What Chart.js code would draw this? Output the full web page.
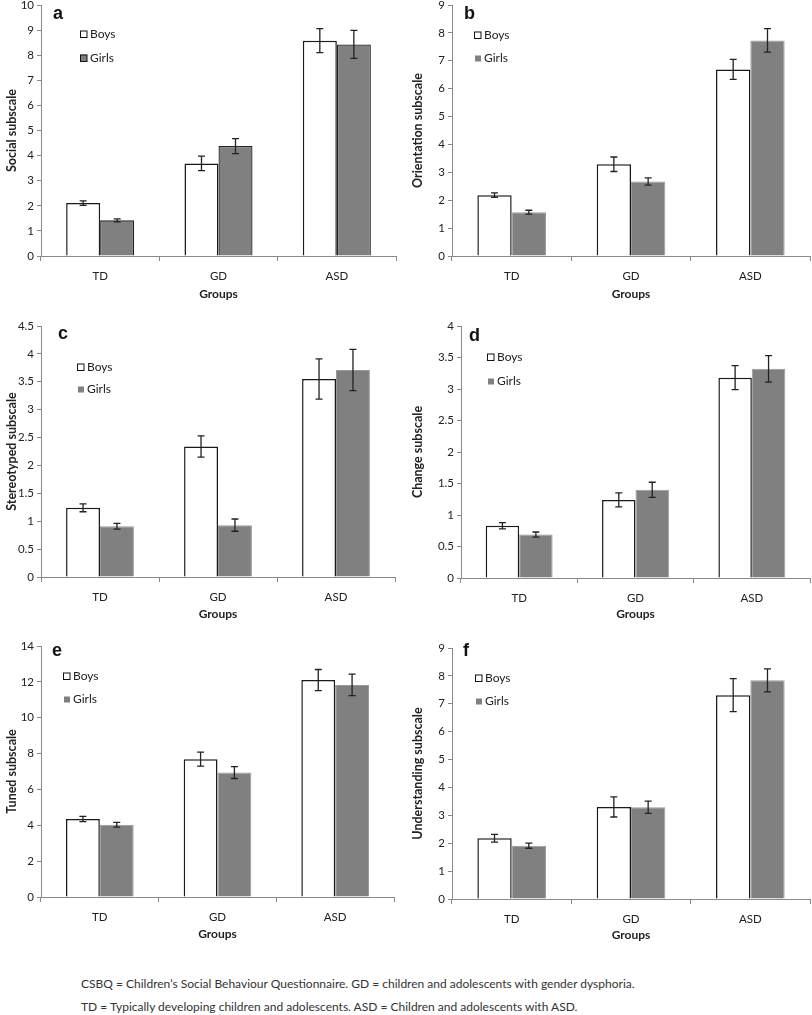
<!DOCTYPE html>
<html>
<head>
<meta charset="utf-8">
<script src="https://cdn.jsdelivr.net/npm/chart.js@4.4.1/dist/chart.umd.min.js"></script>
<style>
    body { margin: 0; background: #fff; width: 812px; height: 1015px; position: relative; overflow: hidden; font-family: Lato, sans-serif; }
    canvas { position: absolute; }
    .note { position: absolute; left: 81px; font-size: 12px; color: #333; white-space: nowrap; line-height: 14px; }
</style>
</head>
<body>
<canvas id="chart-a"></canvas>
<canvas id="chart-b"></canvas>
<canvas id="chart-c"></canvas>
<canvas id="chart-d"></canvas>
<canvas id="chart-e"></canvas>
<canvas id="chart-f"></canvas>
<div class="note" style="top:977px">CSBQ = Children’s Social Behaviour Questionnaire. GD = children and adolescents with gender dysphoria.</div>
<div class="note" style="top:1000px">TD = Typically developing children and adolescents. ASD = Children and adolescents with ASD.</div>

<script>
// values (means and error bar half-lengths)
const groups = ['TD', 'GD', 'ASD'];
const seriesNames = ['Boys', 'Girls'];

const socialBoys = [2.11, 3.69, 8.58];
const socialBoysErr = [0.09, 0.29, 0.48];
const socialGirls = [1.42, 4.38, 8.43];
const socialGirlsErr = [0.06, 0.30, 0.56];

const orientationBoys = [2.18, 3.29, 6.69];
const orientationBoysErr = [0.08, 0.26, 0.36];
const orientationGirls = [1.57, 2.67, 7.73];
const orientationGirlsErr = [0.07, 0.13, 0.42];

const stereotypedBoys = [1.24, 2.34, 3.55];
const stereotypedBoysErr = [0.07, 0.19, 0.36];
const stereotypedGirls = [0.91, 0.93, 3.71];
const stereotypedGirlsErr = [0.05, 0.11, 0.37];

const changeBoys = [0.83, 1.24, 3.18];
const changeBoysErr = [0.05, 0.11, 0.19];
const changeGirls = [0.69, 1.40, 3.32];
const changeGirlsErr = [0.04, 0.12, 0.21];

const tunedBoys = [4.35, 7.69, 12.10];
const tunedBoysErr = [0.15, 0.39, 0.59];
const tunedGirls = [4.03, 6.94, 11.83];
const tunedGirlsErr = [0.13, 0.33, 0.60];

const understandingBoys = [2.18, 3.30, 7.31];
const understandingBoysErr = [0.14, 0.36, 0.59];
const understandingGirls = [1.91, 3.29, 7.84];
const understandingGirlsErr = [0.09, 0.22, 0.41];

// y axis ranges
const yMax = [10, 9, 4.5, 4, 14, 9];
const yStep = [1, 1, 0.5, 0.5, 2, 1];

const axisTitles = ['Social subscale', 'Orientation subscale', 'Stereotyped subscale',
                    'Change subscale', 'Tuned subscale', 'Understanding subscale'];
const letters = ['a', 'b', 'c', 'd', 'e', 'f'];

Chart.defaults.font.family = 'Lato, sans-serif';
Chart.defaults.color = '#222';

// error bars drawn from each dataset's "errors" list
const errorBars = {
    id: 'errorBars',
    afterDatasetsDraw(chart) {
        const ctx = chart.ctx;
        const y = chart.scales.y;
        ctx.save();
        ctx.strokeStyle = '#222';
        ctx.lineWidth = 1.3;
        chart.data.datasets.forEach((ds, i) => {
            chart.getDatasetMeta(i).data.forEach((bar, j) => {
                const hi = y.getPixelForValue(ds.data[j] + ds.errors[j]);
                const lo = y.getPixelForValue(ds.data[j] - ds.errors[j]);
                const x = bar.x;
                ctx.beginPath();
                ctx.moveTo(x, hi); ctx.lineTo(x, lo);
                ctx.moveTo(x - 3.5, hi); ctx.lineTo(x + 3.5, hi);
                ctx.moveTo(x - 3.5, lo); ctx.lineTo(x + 3.5, lo);
                ctx.stroke();
            });
        });
        ctx.restore();
    }
};

// panel letter and small legend inside the plot area
const panelKey = {
    id: 'panelKey',
    afterDraw(chart, args, o) {
        const ctx = chart.ctx;
        const a = chart.chartArea;
        ctx.save();
        ctx.fillStyle = '#111';
        ctx.font = 'bold 18px "Liberation Sans", Arial, sans-serif';
        ctx.textBaseline = 'alphabetic';
        ctx.fillText(o.letter, a.left + o.letterX, a.top + o.letterY);

        ctx.font = '12px Lato, sans-serif';
        ctx.textBaseline = 'middle';
        // Boys
        let bx = a.left + o.boxX, by = a.top + o.boysY;
        ctx.fillStyle = '#fff';
        ctx.fillRect(bx, by - 3.5, 7, 7);
        ctx.strokeStyle = '#111';
        ctx.lineWidth = 1;
        ctx.strokeRect(bx + 0.5, by - 3, 6.5, 6.5);
        ctx.fillStyle = '#222';
        ctx.fillText(seriesNames[0], bx + 10, by);
        // Girls
        by = a.top + o.girlsY;
        ctx.fillStyle = '#808080';
        if (o.girlsBorder) {
            ctx.fillRect(bx, by - 3.5, 7, 7);
            ctx.strokeRect(bx + 0.5, by - 3, 6.5, 6.5);
        } else {
            ctx.fillRect(bx + 1, by - 2.5, 6, 6);
        }
        ctx.fillStyle = '#222';
        ctx.fillText(seriesNames[1], bx + 10, by);
        ctx.restore();
    }
};

// canvas box and plot area in page pixels
const panels = [
    { id: 'chart-a', left: 0,   top: 0,   w: 406, h: 305, l: 41,  r: 396, t: 5,   b: 256,
      key: { letterX: 12, letterY: 14, boxX: 39, boysY: 29, girlsY: 53, girlsBorder: true },
      boys: socialBoys, boysErr: socialBoysErr, girls: socialGirls, girlsErr: socialGirlsErr },
    { id: 'chart-b', left: 406, top: 0,   w: 406, h: 305, l: 452, r: 810, t: 5,   b: 256,
      key: { letterX: 12, letterY: 14, boxX: 22, boysY: 30, girlsY: 53 },
      boys: orientationBoys, boysErr: orientationBoysErr, girls: orientationGirls, girlsErr: orientationGirlsErr },
    { id: 'chart-c', left: 0,   top: 305, w: 406, h: 320, l: 41,  r: 395, t: 326, b: 577,
      key: { letterX: 17, letterY: 13, boxX: 36, boysY: 41, girlsY: 63 },
      boys: stereotypedBoys, boysErr: stereotypedBoysErr, girls: stereotypedGirls, girlsErr: stereotypedGirlsErr },
    { id: 'chart-d', left: 406, top: 305, w: 406, h: 320, l: 461, r: 810, t: 326, b: 578,
      key: { letterX: 8, letterY: 15, boxX: 26, boysY: 31, girlsY: 55 },
      boys: changeBoys, boysErr: changeBoysErr, girls: changeGirls, girlsErr: changeGirlsErr },
    { id: 'chart-e', left: 0,   top: 625, w: 406, h: 320, l: 41,  r: 394, t: 646, b: 897,
      key: { letterX: 11, letterY: 10, boxX: 22, boysY: 30, girlsY: 53 },
      boys: tunedBoys, boysErr: tunedBoysErr, girls: tunedGirls, girlsErr: tunedGirlsErr },
    { id: 'chart-f', left: 406, top: 625, w: 406, h: 321, l: 452, r: 810, t: 648, b: 899,
      key: { letterX: 11, letterY: 8, boxX: 23, boysY: 30, girlsY: 53 },
      boys: understandingBoys, boysErr: understandingBoysErr, girls: understandingGirls, girlsErr: understandingGirlsErr }
];

panels.forEach((p, i) => {
    const canvas = document.getElementById(p.id);
    canvas.width = p.w;
    canvas.height = p.h;
    canvas.style.left = p.left + 'px';
    canvas.style.top = p.top + 'px';

    const axisWidth = p.l - p.left;
    const axisHeight = p.h - (p.b - p.top);

    new Chart(canvas, {
        type: 'bar',
        data: {
            labels: groups,
            datasets: [{
                label: seriesNames[0],
                data: p.boys,
                errors: p.boysErr,
                backgroundColor: '#fff',
                borderColor: '#1a1a1a',
                borderWidth: 1.5
            }, {
                label: seriesNames[1],
                data: p.girls,
                errors: p.girlsErr,
                backgroundColor: '#808080',
                borderColor: p.key.girlsBorder ? '#222' : '#999',
                borderWidth: p.key.girlsBorder ? 1.3 : 1
            }]
        },
        options: {
            responsive: false,
            animation: false,
            devicePixelRatio: 1,
            categoryPercentage: 0.575,
            barPercentage: 1,
            layout: { padding: { left: 0, top: p.t - p.top, right: p.left + p.w - p.r, bottom: 0 } },
            plugins: {
                legend: { display: false },
                tooltip: { enabled: false },
                panelKey: Object.assign({ letter: letters[i] }, p.key)
            },
            scales: {
                x: {
                    grid: { drawOnChartArea: false, color: '#8a8a8a', tickLength: 5 },
                    border: { color: '#8a8a8a' },
                    ticks: { font: { size: 11.5 }, color: '#222', padding: 8 },
                    title: { display: true, text: 'Groups', font: { size: 12, weight: 'bold' }, color: '#222',
                             padding: { top: 4, bottom: 4 } },
                    afterFit(scale) {
                        scale.height = axisHeight;
                        scale.paddingLeft = 0; scale.paddingRight = 0;
                    }
                },
                y: {
                    min: 0,
                    max: yMax[i],
                    grid: { drawOnChartArea: false, color: '#8a8a8a', tickLength: 4 },
                    border: { color: '#8a8a8a' },
                    ticks: { stepSize: yStep[i], font: { size: 11.5 }, color: '#222', padding: 3,
                             callback: v => String(v) },
                    title: { display: true, text: axisTitles[i], font: { size: 12.5, weight: 'bold' }, color: '#222',
                             padding: { top: 4, bottom: 2 } },
                    afterFit(scale) {
                        scale.width = axisWidth;
                        scale.paddingTop = 0; scale.paddingBottom = 0;
                    }
                }
            }
        },
        plugins: [errorBars, panelKey]
    });
});
</script>
</body>
</html>
